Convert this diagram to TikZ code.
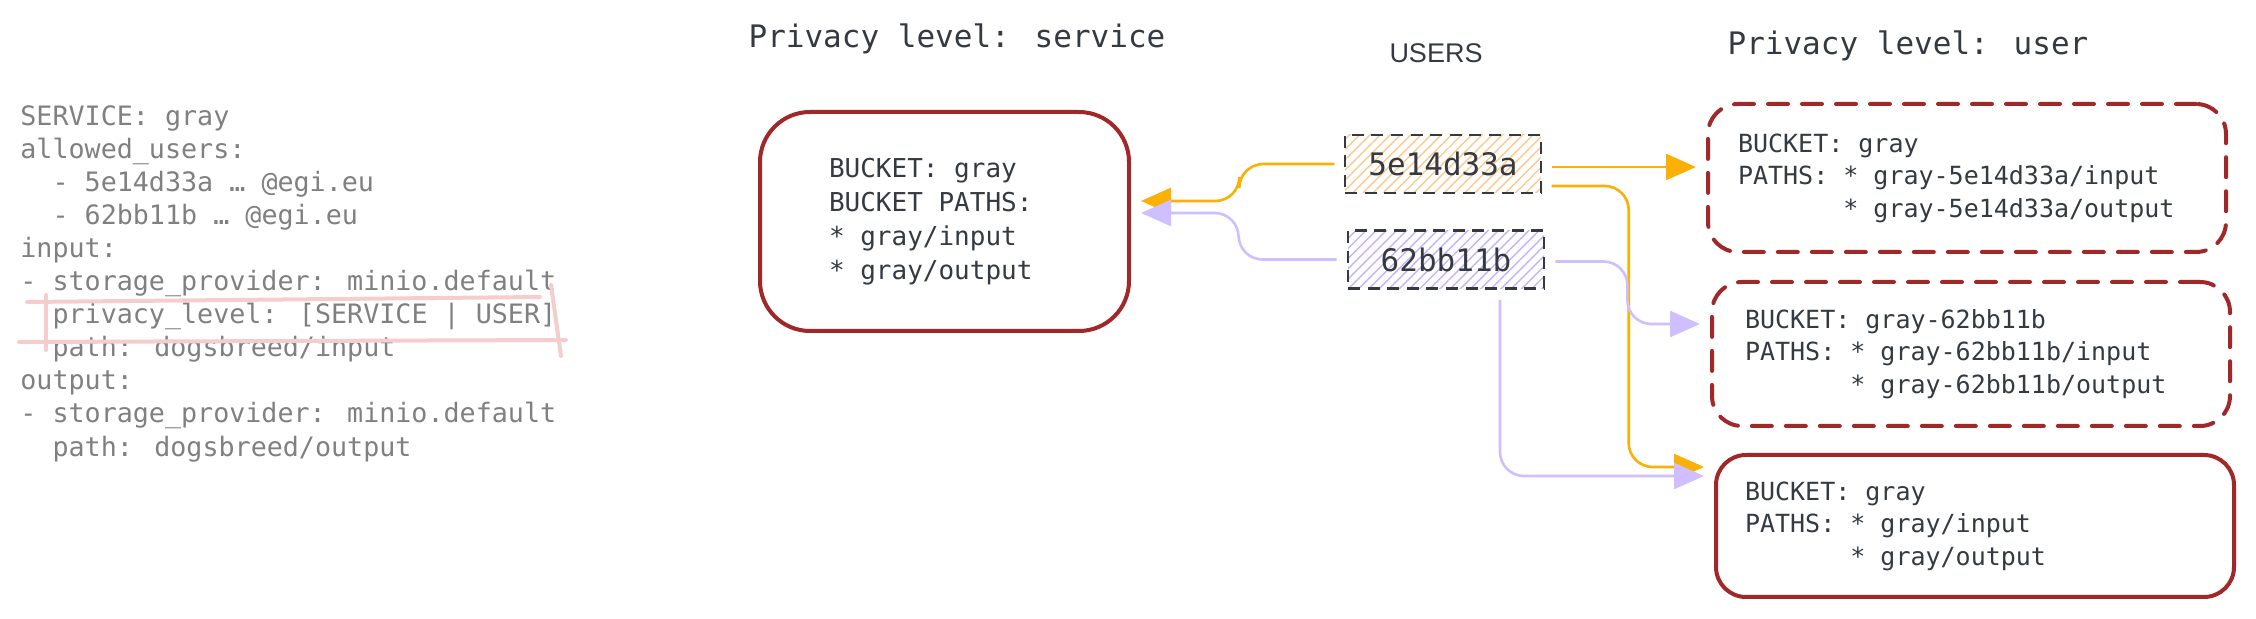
\documentclass[tikz,border=0pt]{standalone}
\usepackage{fontspec}
\usetikzlibrary{arrows.meta,patterns.meta}
\newfontfamily\codefont{DejaVu Sans Mono}
\newfontfamily\headfont{Liberation Sans}
\definecolor{ink}{RGB}{52,58,64}
\definecolor{yamlgray}{RGB}{128,128,128}
\definecolor{bucketred}{RGB}{160,40,40}
\definecolor{userorange}{RGB}{250,176,5}
\definecolor{userlilac}{RGB}{208,191,255}
\definecolor{hatchorange}{RGB}{255,201,140}
\definecolor{hatchlilac}{RGB}{196,178,255}
\definecolor{hilite}{RGB}{246,205,205}

\begin{document}
\begin{tikzpicture}[x=0.5pt,y=-0.5pt,
    every node/.style={inner sep=0pt, text=ink},
    title/.style={font=\codefont\fontsize{15.5}{18}\selectfont},
    bucket/.style={draw=bucketred, line width=2pt, rounded corners=15pt, align=left,
      execute at begin node={\spaceskip=0pt \xspaceskip=0pt \frenchspacing}},
    userbucket/.style={bucket, dash pattern=on 10pt off 7pt, line cap=round},
    user/.style={draw=ink, line width=1.4pt, dash pattern=on 6pt off 3.8pt,
      minimum width=98pt, minimum height=29pt, font=\codefont\fontsize{15.5}{18}\selectfont},
    link/.style={line width=1.3pt, rounded corners=12pt,
      -{Triangle[length=15pt,width=13pt]}, shorten >=5pt, shorten <=5pt},
    rednote/.style={draw=hilite, line width=2pt, line cap=round}]
  \useasboundingbox (0,0) rectangle (2256,619);

  % service definition
  \node[anchor=west, align=left, text=yamlgray,
    font=\codefont\fontsize{13.35}{16.55}\selectfont] (yaml) at (20,283.5)
    {SERVICE: gray\\
     allowed\_users:\\
     \phantom{xx}- 5e14d33a … @egi.eu\\
     \phantom{xx}- 62bb11b … @egi.eu\\
     input:\\
     - storage\_provider: minio.default\\
     \phantom{xx}privacy\_level: [SERVICE | USER]\\
     \phantom{xx}path: dogsbreed/input\\
     output:\\
     - storage\_provider: minio.default\\
     \phantom{xx}path: dogsbreed/output};
  \draw[rednote] (27,302) -- (540,297);
  \draw[rednote] (19,342) -- (566,340);
  \draw[rednote] (46,295) -- (46,350);
  \draw[rednote] (551,285) -- (561,356);

  % titles
  \node[title] (svctitle) at (957,39) {Privacy level: service};
  \node[font=\headfont\fontsize{13.5}{16}\selectfont] (userstitle) at (1436,53) {USERS};
  \node[title] (usertitle) at (1908,46) {Privacy level: user};

  % buckets
  \node[bucket, rounded corners=25pt, text width=115.5pt, inner xsep=34.5pt,
    minimum height=109.5pt, font=\codefont\fontsize{13}{17}\selectfont] (svc) at (944.5,221.5)
    {BUCKET: gray\\ BUCKET PATHS:\\{}* gray/input\\{}* gray/output};
  \node[userbucket, text width=229pt, inner xsep=15pt, minimum height=74pt,
    font=\codefont\fontsize{12.5}{16.25}\selectfont] (ub5e) at (1967,178)
    {BUCKET: gray\\ PATHS: * gray-5e14d33a/input\\ \phantom{PATHS:}~* gray-5e14d33a/output};
  \node[userbucket, text width=226pt, inner xsep=16.5pt, minimum height=72pt,
    font=\codefont\fontsize{12.5}{16.25}\selectfont] (ub62) at (1971,354)
    {BUCKET: gray-62bb11b\\ PATHS: * gray-62bb11b/input\\ \phantom{PATHS:}~* gray-62bb11b/output};
  \node[bucket, text width=230pt, inner xsep=14.5pt, minimum height=71pt,
    font=\codefont\fontsize{12.5}{16.25}\selectfont] (ub3) at (1975,526)
    {BUCKET: gray\\ PATHS: * gray/input\\ \phantom{PATHS:}~* gray/output};

  % users
  \node[user, pattern={Lines[angle=45,distance=3.6pt,line width=0.7pt]},
    pattern color=hatchorange] (u5e) at (1443,164) {5e14d33a};
  \node[user, pattern={Lines[angle=45,distance=3.6pt,line width=0.7pt]},
    pattern color=hatchlilac] (u62) at (1446,259.5) {62bb11b};

  % orange user
  \coordinate (o1) at ([yshift=-1.5pt]u5e.east);
  \draw[link, userorange] (o1) -- (o1 -| ub5e.west);
  \draw[link, userorange] ([yshift=-11pt]u5e.east) -- ++(87,0) |- ([yshift=-7pt]ub3.north west);
  \draw[link, userorange] (u5e.west) -- ++(-105,0) |- ([yshift=10.25pt]svc.east);

  % lilac user
  \draw[link, userlilac] (u62.west) -- ++(-108,0) |- ([yshift=4.25pt]svc.east);
  \draw[link, userlilac] ([yshift=-1pt]u62.east) -- ++(82,0) |- ([yshift=15pt]ub62.west);
  \draw[link, userlilac] ([xshift=27pt]u62.south) |- ([yshift=-11.5pt]ub3.north west);
\end{tikzpicture}
\end{document}
